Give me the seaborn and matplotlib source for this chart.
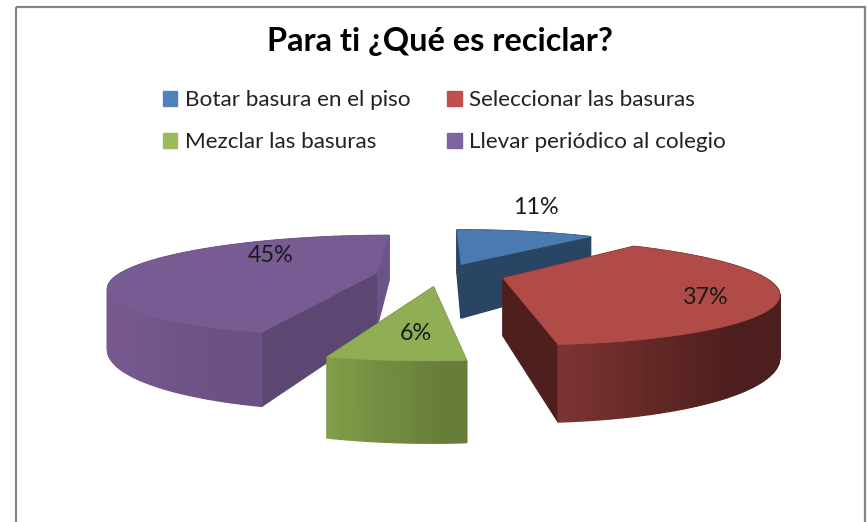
import numpy as np
import matplotlib
matplotlib.use("Agg")
import matplotlib.pyplot as plt
from matplotlib.patches import Patch, Rectangle
import seaborn as sns

title = "Para ti ¿Qué es reciclar?"
categories = ["Botar basura en el piso", "Seleccionar las basuras", "Mezclar las basuras", "Llevar periódico al colegio"]
values = [11, 37, 6, 45]

legend_colors = ["#4f81bd", "#c0504d", "#9bbb59", "#8064a2"]
top_colors = ["#4a7ab0", "#b04b48", "#90ae54", "#775b93"]
# side gradient, left end then right end on screen
side_colors = [("#2a4463", "#2a4463"), ("#7b3431", "#4c1e1d"), ("#7f9e48", "#687d3a"), ("#77598f", "#6a5083")]
# the flat cut walls of each slice, start edge then end edge
wall_colors = [("#2a4463", "#2a4463"), ("#4f1f1e", "#4f1f1e"), ("#687d3a", "#687d3a"), ("#5c4773", "#6d5388")]
label_xy = [(536, 208), (706, 298), (416, 333), (271, 256)]

# camera for the fake 3d pie, fitted by eye to the picture
CENTER_X = 440
HORIZON = 84
CAM_DIST = 3.98
FOCAL = 1075
CAM_HEIGHT = 0.706
THICK = 0.21
EXPLODE = 0.24
RADIUS_X = 0.955


def project(x, z, y=0.0):
    s = FOCAL / (CAM_DIST + z)
    return CENTER_X + x * s, HORIZON + (CAM_HEIGHT + y) * s


def quad(p0, p1, color, z):
    # wall between two top points, going down by THICK
    pts = [project(*p0), project(*p1), project(p1[0], p1[1], THICK), project(p0[0], p0[1], THICK)]
    return z, pts, color


def draw_slice(ax, start, end, top, side, wall):
    mid = np.radians((start + end) / 2)
    ox, oz = EXPLODE * np.sin(mid), EXPLODE * np.cos(mid)
    theta = np.radians(np.linspace(start, end, max(int(end - start), 2) + 1))
    xs = ox + RADIUS_X * np.sin(theta)
    zs = oz + np.cos(theta)

    polys = []
    polys.append(quad((ox, oz), (xs[0], zs[0]), wall[0], (oz + zs[0]) / 2))
    polys.append(quad((ox, oz), (xs[-1], zs[-1]), wall[1], (oz + zs[-1]) / 2))

    sx = np.array([project(a, b)[0] for a, b in zip(xs, zs)])
    front = np.cos(theta) < 0.15
    left, right = sx[front].min() if front.any() else sx.min(), sx[front].max() if front.any() else sx.max()
    ramp = sns.blend_palette(list(side), 32)
    for i in range(len(xs) - 1):
        t = np.clip((sx[i] + sx[i + 1]) / 2 - left, 0, right - left) / max(right - left, 1)
        color = ramp[int(min(t * 1.25, 1) * 31)]
        polys.append(quad((xs[i], zs[i]), (xs[i + 1], zs[i + 1]), color, (zs[i] + zs[i + 1]) / 2))

    # far walls first
    for z, pts, color in sorted(polys, key=lambda p: -p[0]):
        ax.fill(*zip(*pts), color=color, lw=1.0)

    outline = [project(ox, oz)] + [project(a, b) for a, b in zip(xs, zs)]
    ax.fill(*zip(*outline), color=top, lw=0.5)


sns.set_theme(style="white")
plt.rcParams["font.family"] = ["Lato", "DejaVu Sans"]

fig = plt.figure(figsize=(8.67, 5.22), dpi=100)
ax = fig.add_axes([0, 0, 1, 1])
ax.set_xlim(0, 867)
ax.set_ylim(522, 0)
ax.axis("off")

ax.add_patch(Rectangle((16, 7), 849, 530, fill=False, ec="#868686", lw=1.6))

angles = np.cumsum([0] + values) / sum(values) * 360
for i in [0, 1, 3, 2]:
    draw_slice(ax, angles[i], angles[i + 1], top_colors[i], side_colors[i], wall_colors[i])

for v, (x, y) in zip(values, label_xy):
    ax.text(x, y, f"{v}%", ha="center", va="center", fontsize=16.8, color="#1a1a1a")

ax.text(440, 42, title, ha="center", va="center", fontsize=23.4, fontweight="bold", color="black")

handles = [Patch(color=c, label=l) for c, l in zip(legend_colors, categories)]
order = [0, 2, 1, 3]
ax.legend(
    [handles[i] for i in order],
    [categories[i] for i in order],
    ncols=2,
    loc="upper left",
    bbox_to_anchor=(163 / 867, 1 - 90 / 522),
    frameon=False,
    fontsize=16.2,
    handlelength=0.64,
    handleheight=0.64,
    handletextpad=0.32,
    labelspacing=0.98,
    columnspacing=1.65,
    borderpad=0,
    borderaxespad=0,
    labelcolor="#222222",
)

fig.savefig("out.png", dpi=100, facecolor="white")
